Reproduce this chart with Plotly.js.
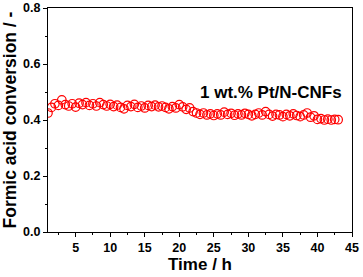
<!DOCTYPE html>
<html><head><meta charset="utf-8">
<script src="https://cdn.plot.ly/plotly-3.0.1.min.js"></script>
<style>html,body{margin:0;padding:0;background:#fff}#c{width:363px;height:277px}</style>
</head><body><div id="c"></div>
<script>
const timeH = [1.0,1.5,2.0,2.5,3.0,3.5,4.0,4.5,5.0,5.5,6.0,6.5,7.0,7.5,8.0,8.5,9.0,9.5,10.0,10.5,11.0,11.5,12.0,12.5,13.0,13.5,14.0,14.5,15.0,15.5,16.0,16.5,17.0,17.5,18.0,18.5,19.0,19.5,20.0,20.5,21.0,21.5,22.0,22.5,23.0,23.5,24.0,24.5,25.0,25.5,26.0,26.5,27.0,27.5,28.0,28.5,29.0,29.5,30.0,30.5,31.0,31.5,32.0,32.5,33.0,33.5,34.0,34.5,35.0,35.5,36.0,36.5,37.0,37.5,38.0,38.5,39.0,39.5,40.0,40.5,41.0,41.5,42.0,42.5,43.0];
const conversion = [0.425,0.445,0.458,0.452,0.472,0.455,0.450,0.458,0.446,0.460,0.455,0.462,0.452,0.458,0.450,0.462,0.455,0.450,0.456,0.448,0.453,0.445,0.440,0.452,0.448,0.456,0.445,0.450,0.443,0.452,0.448,0.453,0.447,0.450,0.445,0.440,0.448,0.443,0.455,0.447,0.438,0.443,0.430,0.425,0.420,0.425,0.418,0.422,0.416,0.422,0.418,0.428,0.420,0.424,0.417,0.422,0.418,0.424,0.420,0.415,0.420,0.425,0.418,0.430,0.420,0.414,0.420,0.418,0.412,0.420,0.415,0.422,0.416,0.412,0.418,0.425,0.410,0.415,0.402,0.405,0.400,0.403,0.400,0.402,0.401];
const xTicks = [5,10,15,20,25,30,35,40,45];
const yTicks = [0.0,0.2,0.4,0.6,0.8];
const yTickText = ['0.0','0.2','0.4','0.6','0.8'];
const seriesLabel = '1 wt.% Pt/N-CNFs';

const font = {family:'Liberation Sans, Arial, sans-serif', color:'#000'};
Plotly.newPlot('c', [{
  x: timeH, y: conversion, type:'scatter', mode:'markers',
  marker:{symbol:'circle-open', size:8.5, color:'#ff0000', line:{width:1.2, color:'#ff0000'}},
  showlegend:false
}], {
  width:363, height:277,
  margin:{l:48, r:11, t:8, b:45},
  paper_bgcolor:'#fff', plot_bgcolor:'#fff',
  font: font,
  xaxis:{range:[1,45], tickvals:xTicks, ticks:'outside', ticklen:4, tickwidth:1, tickcolor:'#000',
    showline:true, linecolor:'#000', linewidth:1, mirror:true, showgrid:false, zeroline:false,
    tickfont:{family:font.family, size:12.5, color:'#000', weight:'bold'},
    title:{text:'<b>Time / h</b>', font:{family:font.family, size:17, color:'#000'}, standoff:4},
    minor:{dtick:2.5, ticks:'outside', ticklen:2, tickcolor:'#000'}},
  yaxis:{range:[0,0.8], tickvals:yTicks, ticktext:yTickText, ticks:'outside', ticklen:4, tickwidth:1, tickcolor:'#000',
    showline:true, linecolor:'#000', linewidth:1, mirror:true, showgrid:false, zeroline:false,
    tickfont:{family:font.family, size:12.5, color:'#000', weight:'bold'},
    title:{text:'<b>Formic acid conversion / -</b>', font:{family:font.family, size:17.5, color:'#000'}, standoff:2},
    minor:{dtick:0.1, ticks:'outside', ticklen:2, tickcolor:'#000'}},
  annotations:[{x:43.8, y:0.5, xref:'x', yref:'y', xanchor:'right', yanchor:'middle', showarrow:false,
    text:'<b>'+seriesLabel+'</b>', font:{family:font.family, size:17, color:'#000'}}]
}, {displayModeBar:false, staticPlot:true});
</script></body></html>
